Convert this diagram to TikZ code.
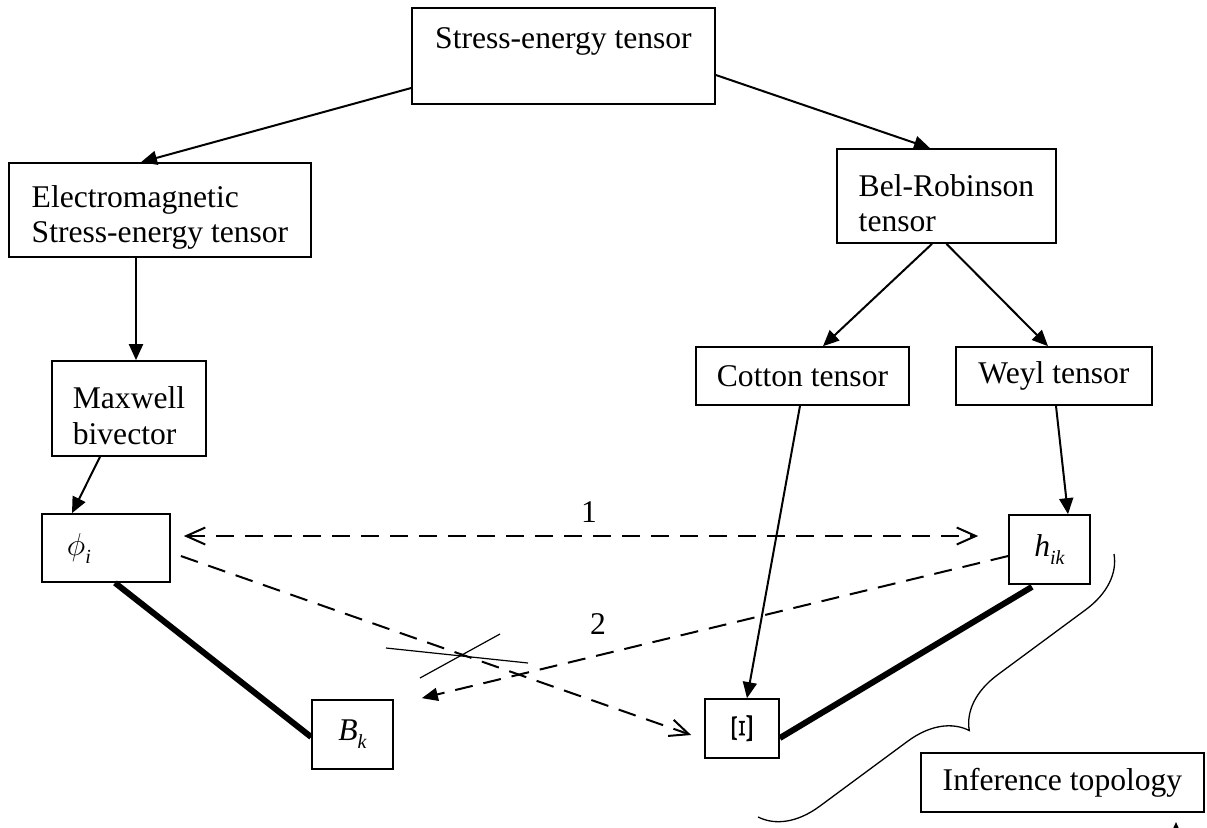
\documentclass[tikz,border=0pt]{standalone}
\usepackage{fontspec}
\setmainfont{Liberation Serif}
\usepackage{graphicx}
\usetikzlibrary{arrows.meta,decorations.pathreplacing}
\newcommand{\myfs}{\fontsize{15.8}{17.5}\selectfont}
\newcommand{\lowsub}[1]{\raisebox{-4pt}{\fontsize{10}{10}\selectfont\itshape #1}}
\newcommand{\topstrut}{\rule{0pt}{18pt}}
\tikzset{openhead/.tip={Straight Barb[length=9.5pt,width=8.5pt]},
  fullhead/.tip={Triangle[length=8pt,width=7pt]}}
\begin{document}
\begin{tikzpicture}[x=0.5pt,y=-0.5pt,
  box/.style={draw, line width=0.85pt, inner sep=0pt, font=\myfs, align=center},
  lbox/.style={box, align=left},
  arr/.style={line width=1pt, -fullhead},
  dashpat/.style={line width=1pt, dash pattern=on 9pt off 5.5pt},
  thickline/.style={line width=3pt},
  thinline/.style={line width=0.6pt}
]
\useasboundingbox (0,0) rectangle (1207,827);

% boxes
\node[box, minimum width=151.5pt, minimum height=48pt, text height=11pt, text depth=19pt] (top) at (563.5,56) {Stress-energy tensor};
\node[lbox, minimum width=151pt, minimum height=47pt, inner xsep=11pt] (em) at (160,210) {\topstrut Electromagnetic\\Stress-energy tensor};
\node[lbox, minimum width=77pt, minimum height=47.5pt, inner xsep=10pt] (maxwell) at (129,408.5) {\topstrut Maxwell\\[0.5pt]bivector};
\node[lbox, minimum width=64pt, minimum height=34pt, inner xsep=12.5pt, text width=39pt] (phi) at (106,548) {\scalebox{1.1}{$\phi$}\lowsub{i}};
\node[box, minimum width=40.5pt, minimum height=34.5pt] (bk) at (352.5,734.5) {\itshape B\lowsub{k}};
\node[lbox, minimum width=109.5pt, minimum height=47pt, inner xsep=10pt] (bel) at (946.5,196) {\topstrut Bel-Robinson\\tensor};
\node[box, minimum width=106.5pt, minimum height=29pt] (cotton) at (802.5,376) {Cotton tensor};
\node[box, minimum width=98pt, minimum height=29pt] (weyl) at (1054,376) {Weyl tensor};
\node[box, minimum width=40.5pt, minimum height=34.5pt] (hik) at (1049.5,549.5) {\itshape h\lowsub{ik}};
\node[box, minimum width=37pt, minimum height=29.5pt] (xi) at (742,728.5) {\rotatebox{90}{\fontsize{17}{17}\selectfont\scalebox{1.45}[0.9]{Ξ}}};
\node[box, minimum width=141.5pt, minimum height=29.5pt] (inf) at (1062.5,782.5) {Inference topology};

% solid arrows
\draw[arr] ([yshift=-16pt]top.west) -- ([xshift=-9.5pt]em.north);
\draw[arr] ([yshift=-9.5pt]top.east) -- ([xshift=-8.25pt]bel.north);
\draw[arr] ([xshift=-12pt]em.south) -- ([xshift=3.5pt]maxwell.north);
\draw[arr] ([xshift=-14.5pt]maxwell.south) -- ([xshift=-17pt]phi.north);
\draw[arr] ([xshift=-7.25pt]bel.south) -- ([xshift=10.25pt]cotton.north);
\draw[arr] (bel.south) -- ([xshift=-3pt]weyl.north);
\draw[arr] ([xshift=-1.25pt]cotton.south) -- ([xshift=2.5pt]xi.north);
\draw[arr] ([xshift=1pt]weyl.south) -- ([xshift=9.25pt]hik.north);

% dashed arrows
\draw[dashpat, openhead-openhead] ([xshift=6.5pt,yshift=6pt]phi.east) -- ([xshift=-15pt,yshift=6.75pt]hik.west);
\draw[dashpat, -openhead] ([xshift=5pt,yshift=-4pt]phi.east) -- ([xshift=-6.5pt,yshift=-3.25pt]xi.west);
\draw[dashpat, -{Triangle[length=8pt,width=6.5pt]}] ([yshift=-3.25pt]hik.west) -- ([xshift=14pt,yshift=0.5pt]bk.north east);

\node[font=\myfs, anchor=base] (lab1) at (589,522) {1};
\node[font=\myfs, anchor=base] (lab2) at (598,634) {2};

% thick links
\draw[thickline] ([xshift=4.5pt]phi.south) -- ([yshift=-1.25pt]bk.west);
\draw[thickline] ([yshift=-4.75pt]xi.east) -- ([xshift=-8.75pt,yshift=-1pt]hik.south);

% crossing strokes
\coordinate (c1a) at (386,648); \coordinate (c1b) at (528,663);
\coordinate (c2a) at (420,678); \coordinate (c2b) at (500,634);
\draw[thinline] (c1a) -- (c1b);
\draw[thinline] (c2a) -- (c2b);

% brace
\coordinate (brA) at (1114,554); \coordinate (brB) at (758,817);
\draw[line width=0.65pt, decorate, decoration={brace, amplitude=28pt}] (brA) -- (brB);

% small arrow at the bottom edge
\begin{scope}
\clip (0,0) rectangle (1207,827);
\coordinate (upS) at (1176,880); \coordinate (upE) at (1176,822);
\draw[arr] (upS) -- (upE);
\end{scope}
\end{tikzpicture}
\end{document}
